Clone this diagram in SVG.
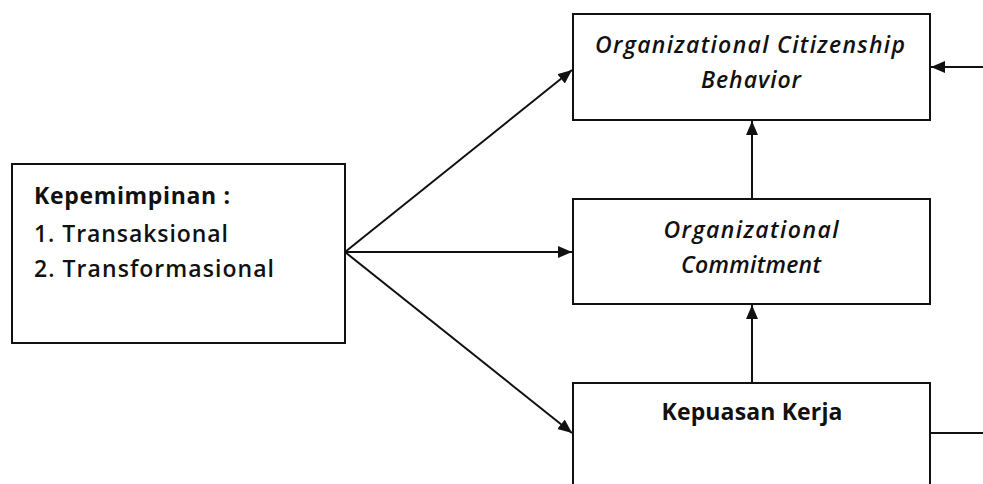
<svg xmlns="http://www.w3.org/2000/svg" width="983" height="484" viewBox="0 0 983 484">
  <defs>
    <style>
      .box { fill: #ffffff; stroke: #111111; stroke-width: 2; }
      .link { fill: none; stroke: #111111; stroke-width: 2; }
      .label { font-family: "Open Sans", "Liberation Sans", sans-serif; font-size: 23px; fill: #111111; font-weight: 600; }
      .bold { font-weight: bold; }
      .ital { font-style: italic; }
    </style>
    <marker id="arrow" markerUnits="userSpaceOnUse" markerWidth="16" markerHeight="14" refX="14" refY="6" orient="auto">
      <path d="M0,0 L14,6 L0,12 Z" fill="#111111"/>
    </marker>
  </defs>
  <rect width="983" height="484" fill="#ffffff"/>

  <g id="connectors">
    <line class="link" x1="345" y1="252" x2="572" y2="70" marker-end="url(#arrow)"/>
    <line class="link" x1="345" y1="252" x2="572" y2="252" marker-end="url(#arrow)"/>
    <line class="link" x1="345" y1="252" x2="572" y2="433" marker-end="url(#arrow)"/>
    <line class="link" x1="752" y1="199" x2="752" y2="121" marker-end="url(#arrow)"/>
    <line class="link" x1="752" y1="383" x2="752" y2="305" marker-end="url(#arrow)"/>
    <line class="link" x1="983" y1="67" x2="931" y2="67" marker-end="url(#arrow)"/>
    <line class="link" x1="930" y1="433" x2="983" y2="433"/>
  </g>

  <g id="kepemimpinan">
    <rect class="box" x="12" y="164" width="333" height="179"/>
    <text class="label bold" x="34" y="204" textLength="196">Kepemimpinan :</text>
    <text class="label" x="34" y="242" textLength="194">1. Transaksional</text>
    <text class="label" x="34" y="277" textLength="240">2. Transformasional</text>
  </g>

  <g id="ocb">
    <rect class="box" x="573" y="14" width="357" height="106"/>
    <text class="label ital" x="750" y="53" text-anchor="middle" textLength="310">Organizational Citizenship</text>
    <text class="label ital" x="751" y="88" text-anchor="middle" textLength="100">Behavior</text>
  </g>

  <g id="commitment">
    <rect class="box" x="573" y="199" width="357" height="105"/>
    <text class="label ital" x="751" y="238" text-anchor="middle" textLength="175">Organizational</text>
    <text class="label ital" x="751" y="273" text-anchor="middle" textLength="140">Commitment</text>
  </g>

  <g id="kepuasan">
    <rect class="box" x="573" y="383" width="357" height="112"/>
    <text class="label bold" x="752" y="420" text-anchor="middle" textLength="181">Kepuasan Kerja</text>
  </g>
</svg>
